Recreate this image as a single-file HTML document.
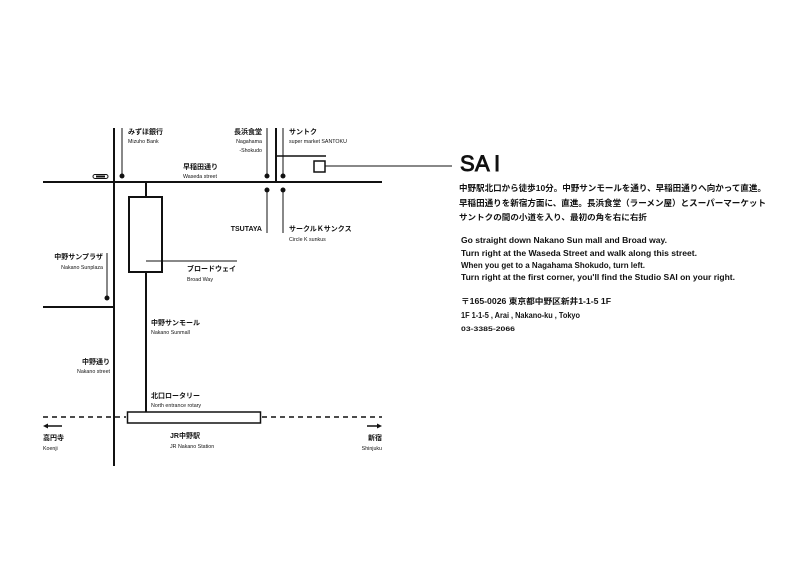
<!DOCTYPE html>
<html><head><meta charset="utf-8"><style>
html,body{margin:0;padding:0;background:#fff;}
svg text{font-family:"Liberation Sans","Noto Sans CJK JP",sans-serif;fill:#111;}
.j{font-size:7px;font-weight:bold;}
.e{font-size:5.3px;}
.r{text-anchor:end;}
.s{font-size:22px;stroke:#111;stroke-width:0.9px;}
</style></head><body>
<svg width="800" height="565" viewBox="0 0 800 565" xmlns="http://www.w3.org/2000/svg">
<g stroke="#111" fill="none">
<line x1="43" y1="182" x2="382" y2="182" stroke-width="2"/>
<line x1="114" y1="128" x2="114" y2="466" stroke-width="2"/>
<line x1="122" y1="128" x2="122" y2="176" stroke-width="1"/>
<line x1="267" y1="128" x2="267" y2="176" stroke-width="1"/>
<line x1="267" y1="190" x2="267" y2="233" stroke-width="1"/>
<line x1="276" y1="128" x2="276" y2="182" stroke-width="2"/>
<line x1="276" y1="156" x2="326" y2="156" stroke-width="1.5"/>
<line x1="283" y1="128" x2="283" y2="176" stroke-width="1"/>
<line x1="283" y1="190" x2="283" y2="233" stroke-width="1"/>
<rect x="314" y="161" width="11" height="11" stroke-width="1.5"/>
<line x1="325" y1="166" x2="452" y2="166" stroke-width="1"/>
<line x1="146" y1="182" x2="146" y2="197" stroke-width="2"/>
<rect x="129" y="197" width="33" height="75" stroke-width="2"/>
<line x1="146" y1="261" x2="237" y2="261" stroke-width="1"/>
<line x1="146" y1="272" x2="146" y2="412" stroke-width="2"/>
<line x1="107" y1="253" x2="107" y2="298" stroke-width="1"/>
<line x1="43" y1="307" x2="114" y2="307" stroke-width="2"/>
<rect x="127.5" y="412" width="133" height="11" stroke-width="1.5"/>
<line x1="43" y1="417" x2="126" y2="417" stroke-width="1.5" stroke-dasharray="5,4"/>
<line x1="262" y1="417" x2="382" y2="417" stroke-width="1.5" stroke-dasharray="5,4"/>
<line x1="47" y1="426" x2="62" y2="426" stroke-width="1.5"/>
<line x1="367" y1="426" x2="378" y2="426" stroke-width="1.5"/>
<rect x="93" y="174.5" width="15" height="4" rx="2" stroke-width="1"/>
</g>
<g fill="#111">
<circle cx="122" cy="176" r="2.5"/><circle cx="267" cy="176" r="2.5"/><circle cx="283" cy="176" r="2.5"/>
<circle cx="267" cy="190" r="2.5"/><circle cx="283" cy="190" r="2.5"/><circle cx="107" cy="298" r="2.5"/>
<polygon points="43,426 48,423.5 48,428.5"/><polygon points="382,426 377,423.5 377,428.5"/>
<rect x="96" y="175.5" width="9" height="2"/>
</g>
<text class="j" x="128" y="134">みずほ銀行</text><text class="e" x="128" y="143">Mizuho Bank</text>
<text class="j r" x="262" y="134">長浜食堂</text><text class="e r" x="262" y="143">Nagahama</text><text class="e r" x="262" y="152">-Shokudo</text>
<text class="j" x="289" y="134">サントク</text><text class="e" x="289" y="143">super market SANTOKU</text>
<text class="j" x="183" y="169">早稲田通り</text><text class="e" x="183" y="178">Waseda street</text>
<text class="j r" x="262" y="231">TSUTAYA</text>
<text class="j" x="289" y="231">サークルＫサンクス</text><text class="e" x="289" y="241">Circle K sunkus</text>
<text class="j r" x="103" y="259">中野サンプラザ</text><text class="e r" x="103" y="269">Nakano Sunplaza</text>
<text class="j" x="187" y="271">ブロードウェイ</text><text class="e" x="187" y="281">Broad Way</text>
<text class="j" x="151" y="325">中野サンモール</text><text class="e" x="151" y="334">Nakano Sunmall</text>
<text class="j r" x="110" y="364">中野通り</text><text class="e r" x="110" y="373">Nakano street</text>
<text class="j" x="151" y="398">北口ロータリー</text><text class="e" x="151" y="407">North entrance rotary</text>
<text class="j" x="43" y="440">高円寺</text><text class="e" x="43" y="450">Koenji</text>
<text class="j" x="170" y="438">JR中野駅</text><text class="e" x="170" y="448">JR Nakano Station</text>
<text class="j r" x="382" y="440">新宿</text><text class="e r" x="382" y="450">Shinjuku</text>
<text class="s" x="460" y="171">S</text><text class="s" x="475" y="171">A</text><text class="s" x="494" y="171">I</text>
<g style="font-size:8.6px;font-weight:bold;">
<text x="459" y="191" textLength="307" lengthAdjust="spacingAndGlyphs">中野駅北口から徒歩10分。中野サンモールを通り、早稲田通りへ向かって直進。</text>
<text x="459" y="206" textLength="307" lengthAdjust="spacingAndGlyphs">早稲田通りを新宿方面に、直進。長浜食堂（ラーメン屋）とスーパーマーケット</text>
<text x="459" y="220" style="font-size:8px" textLength="188" lengthAdjust="spacingAndGlyphs">サントクの間の小道を入り、最初の角を右に右折</text>
</g>
<g style="font-size:8px;font-weight:bold;">
<text x="461" y="243" textLength="206" lengthAdjust="spacingAndGlyphs">Go straight down Nakano Sun mall and Broad way.</text>
<text x="461" y="256" textLength="236" lengthAdjust="spacingAndGlyphs">Turn right at the Waseda Street and walk along this street.</text>
<text x="461" y="268" textLength="184" lengthAdjust="spacingAndGlyphs">When you get to a Nagahama Shokudo, turn left.</text>
<text x="461" y="280" textLength="274" lengthAdjust="spacingAndGlyphs">Turn right at the first corner, you'll find the Studio SAI on your right.</text>
<text x="461" y="304" textLength="150" lengthAdjust="spacingAndGlyphs">〒165-0026 東京都中野区新井1-1-5 1F</text>
<text x="461" y="318" textLength="119" lengthAdjust="spacingAndGlyphs">1F 1-1-5 , Arai , Nakano-ku , Tokyo</text>
<text x="461" y="331" style="font-size:6.5px" textLength="54" lengthAdjust="spacingAndGlyphs">03-3385-2066</text>
</g>
</svg>
</body></html>
